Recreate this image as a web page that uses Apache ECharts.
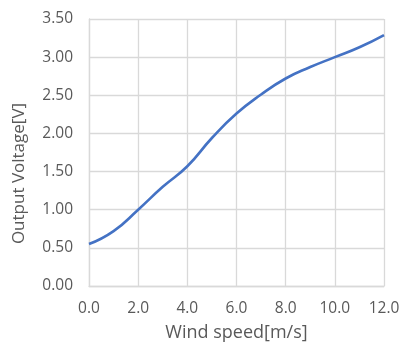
<!DOCTYPE html>
<html><head><meta charset="utf-8">
<script src="https://cdn.jsdelivr.net/npm/echarts@6/dist/echarts.min.js"></script>
<style>html,body{margin:0;padding:0;background:#fff}#c{width:417px;height:354px}</style>
</head><body><div id="c"></div>
<script>
var windSpeed = [0, 1, 2, 3, 4, 5, 6, 7, 8, 9, 10, 11, 12];
var voltage = [0.55, 0.72, 1.00, 1.30, 1.57, 1.94, 2.26, 2.51, 2.72, 2.87, 3.00, 3.13, 3.29];
var xTitle = 'Wind speed[m/s]';
var yTitle = 'Output Voltage[V]';

var chart = echarts.init(document.getElementById('c'), null, {renderer: 'canvas'});
var font = 'Open Sans, Noto Sans, sans-serif';
chart.setOption({
  animation: false,
  grid: {left: 89, right: 33, top: 19, bottom: 68},
  xAxis: {
    type: 'value', min: 0, max: 12, interval: 2,
    name: xTitle, nameLocation: 'middle', nameGap: 38,
    nameTextStyle: {color: '#595959', fontSize: 18, fontFamily: font},
    axisLine: {show: true, lineStyle: {color: '#d9d9d9', width: 1.3}},
    axisTick: {show: false},
    axisLabel: {color: '#595959', fontSize: 15.5, fontFamily: font, margin: 15,
      formatter: function(v){return v.toFixed(1);}},
    splitLine: {show: true, lineStyle: {color: '#d9d9d9', width: 1.3}}
  },
  yAxis: {
    type: 'value', min: 0, max: 3.5, interval: 0.5,
    name: yTitle, nameLocation: 'middle', nameGap: 61,
    nameTextStyle: {color: '#595959', fontSize: 17, fontFamily: font, padding: [0, 42, 0, 0]},
    axisLine: {show: true, lineStyle: {color: '#d9d9d9', width: 1.3}},
    axisTick: {show: false},
    axisLabel: {color: '#595959', fontSize: 15.5, fontFamily: font, margin: 16,
      formatter: function(v){return v.toFixed(2);}},
    splitLine: {show: true, lineStyle: {color: '#d9d9d9', width: 1.3}}
  },
  series: [{
    type: 'line', smooth: 0.5, showSymbol: false,
    data: windSpeed.map(function(x, i){return [x, voltage[i]];}),
    lineStyle: {color: '#4472c4', width: 2.6}
  }]
});
</script></body></html>
